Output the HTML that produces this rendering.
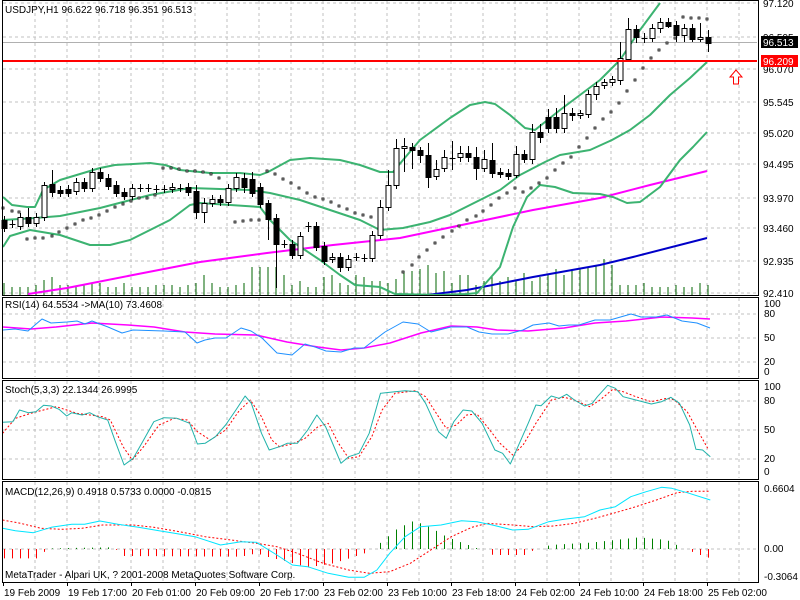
<!DOCTYPE html>
<html><head><meta charset="utf-8"><style>
html,body{margin:0;padding:0;background:#fff;}
svg{display:block;font-family:"Liberation Sans",sans-serif;}
</style></head><body>
<svg id="s" width="800" height="600" xmlns="http://www.w3.org/2000/svg">
<rect width="800" height="600" fill="#fff"/>
<g id="grid" stroke="#c0c0c0" stroke-dasharray="3,3" stroke-width="1"></g>
<g id="main"></g>
<g font-size="10" fill="#000">
<text x="5" y="13">USDJPY,H1  96.622 96.718 96.351 96.513</text>
<text x="5" y="308" font-size="10">RSI(14) 64.5534  -&gt;MA(10) 73.4608</text>
<text x="5" y="393" font-size="10">Stoch(5,3,3) 22.1344 26.9995</text>
<text x="5" y="495" font-size="10">MACD(12,26,9) 0.4918 0.5733 0.0000 -0.0815</text>
<text x="5" y="578" font-size="10">MetaTrader - Alpari UK, ? 2001-2008 MetaQuotes Software Corp.</text>
</g>
<g id="axis" font-size="10" fill="#000"></g>
</svg>
<script>
var S=document.getElementById('s'),NS='http://www.w3.org/2000/svg';
function el(t,a,p){var e=document.createElementNS(NS,t);for(var k in a)e.setAttribute(k,a[k]);(p||S).appendChild(e);return e;}
var G=document.getElementById('grid'),M=document.getElementById('main'),A=document.getElementById('axis');
var panels=[[0,295],[297,378],[380,479],[481,582]];
// vertical grid
panels.forEach(function(p){for(var x=35;x<758;x+=32)el('line',{x1:x,y1:p[0]+1,x2:x,y2:p[1]-1},G);});
[3,37,69,102,133,164,198,228,261,293].forEach(function(y){el('line',{x1:3,y1:y,x2:757,y2:y},G);});
[314,338,362].forEach(function(y){el('line',{x1:3,y1:y,x2:757,y2:y},G);});
[401,430,459].forEach(function(y){el('line',{x1:3,y1:y,x2:757,y2:y},G);});
[549].forEach(function(y){el('line',{x1:3,y1:y,x2:757,y2:y},G);});
// ask line
el('line',{x1:3,y1:42.5,x2:757,y2:42.5,stroke:'#b0b0b0'},M);
// volumes
var vol=[12,8,8,8,10,15,18,10,10,8,10,12,12,8,8,12,8,8,8,10,10,10,8,10,12,20,12,8,8,10,12,28,28,28,28,20,10,14,8,8,18,20,12,10,20,18,14,14,12,16,24,24,26,30,22,24,12,20,20,10,14,18,14,18,14,22,14,18,20,26,20,24,26,28,30,36,30,10,10,10,12,8,8,8,10,8,8,12,10];
vol.forEach(function(h,i){var x=4+8*i;el('line',{x1:x,y1:295,x2:x,y2:295-h,stroke:'#006400'},M);});
function poly(pts,c,w,d,par){el('polyline',{points:pts.map(function(p){return p.join(',')}).join(' '),fill:'none',stroke:c,'stroke-width':w,'stroke-dasharray':d||'none','stroke-linejoin':'round'},par||M);}
// MAs
poly([[28,294],[67,288],[133,275],[200,262],[267,253],[333,245],[400,238],[533,210],[600,198],[650,185],[707,171]],'#ff00ff',2);
poly([[427,295],[467,290],[533,277],[600,265],[633,257],[707,238]],'#0000c8',2);
var bb='#3cb371';
poly([[3,197],[12,205],[27,207],[35,207],[43,190],[60,180],[100,168],[115,165],[150,163],[165,165],[180,170],[210,173],[240,173],[260,175],[268,172],[290,160],[310,158],[340,160],[360,165],[380,172],[393,172],[403,160],[420,140],[450,118],[470,105],[485,102],[495,104],[510,115],[525,128],[535,130],[560,110],[600,80],[620,60],[640,30],[660,3]],bb,2);
poly([[3,220],[35,218],[60,216],[100,208],[150,195],[190,188],[250,190],[270,193],[300,200],[330,210],[360,220],[380,230],[403,228],[430,222],[450,215],[470,205],[500,190],[520,175],[545,162],[560,155],[590,150],[612,140],[630,130],[650,115],[670,95],[690,78],[707,62]],bb,2);
poly([[3,247],[10,236],[30,230],[60,235],[75,240],[90,245],[110,245],[130,240],[150,230],[170,220],[190,205],[200,203],[260,207],[270,220],[290,240],[320,260],[340,275],[355,285],[380,287],[395,294],[440,295],[467,294],[477,293],[500,267],[513,227],[527,197],[540,185],[555,187],[573,193],[600,194],[613,197],[627,203],[640,202],[660,187],[680,160],[693,147],[707,132]],bb,2);
// SAR
var sar=[[3,208],[12,211],[19,212],[27,239],[35,238],[43,238],[52,236],[59,232],[67,228],[75,224],[83,220],[91,218],[99,215],[107,211],[115,207],[123,204],[131,201],[139,198],[147,198],[155,195],[163,168],[171,168],[179,169],[187,171],[195,171],[203,172],[211,174],[219,178],[235,222],[243,221],[251,220],[259,220],[267,171],[275,174],[283,179],[291,183],[299,188],[307,193],[315,197],[323,199],[331,202],[339,206],[347,209],[355,213],[363,215],[371,217],[403,272],[412,265],[419,257],[427,250],[435,243],[443,237],[452,231],[459,226],[467,220],[476,216],[483,211],[491,205],[499,198],[507,193],[515,188],[523,192],[531,188],[539,183],[547,178],[555,170],[563,163],[571,157],[579,147],[587,138],[595,128],[603,119],[611,112],[619,103],[627,91],[635,80],[643,68],[651,58],[659,50],[667,43],[675,38],[683,17],[691,18],[699,18],[707,19]];
sar.forEach(function(p){el('rect',{x:p[0]-1,y:p[1]-1,width:2,height:2,fill:'#fff',stroke:'#000','stroke-width':0.8},M);});
// candles [top,bottom,type,wt,wb]
var C=[[220,228,'b'],[224,224,'c'],[217,226,'w',213],[217,223,'b',208],[217,223,'w'],[185,217,'w',182],[184,192,'b',170,197],[190,193,'b'],[189,193,'b'],[182,191,'w'],[182,188,'b'],[172,188,'w',168],[172,178,'b'],[178,186,'b'],[185,193,'b'],[192,196,'b'],[188,196,'w'],[188,188,'c'],[188,188,'c'],[189,189,'c'],[189,189,'c'],[187,189,'w'],[188,188,'c'],[187,192,'b'],[191,212,'b',185,219],[203,212,'w',198,223],[199,203,'w'],[199,202,'b'],[188,202,'w'],[177,188,'w',173],[178,187,'b',173,193],[179,193,'b',172],[187,204,'b'],[203,219,'b',200,240],[218,244,'b',214,288],[244,244,'c'],[244,255,'b'],[236,255,'w'],[226,226,'c',222,232],[226,247,'b'],[246,261,'b'],[257,259,'w'],[257,267,'b',253,272],[259,267,'w'],[257,257,'c'],[258,258,'c'],[235,258,'w'],[207,235,'w',200],[185,207,'w',170],[148,185,'w',139],
[146,148,'w',138,172],[147,150,'b',143,169],[150,155,'b',147,163],[155,177,'b',143,188],[169,176,'w',160,180],[157,168,'w',150],[158,158,'c',141,170],[153,157,'w',146,162],[153,157,'b',146,162],[157,168,'b',147,180],[159,168,'w',150,172],[160,173,'b',143,178],[172,174,'b'],[173,176,'b'],[154,175,'w',146,178],[154,159,'b',150,163],[132,159,'w',124,164],[132,137,'b',124,143],[117,128,'b',109,133],[117,128,'b',108,133],[113,128,'w',95,133],[113,115,'b',108,121],[113,115,'w',110,119],[94,114,'w',90,118],[86,94,'w',82,100],[82,85,'w',79,89],[79,82,'w',76,86],[58,80,'w',42,85],[29,59,'w',18,62],[29,37,'b',25,43],[38,38,'c',33,43],[28,38,'w',24,42],[22,28,'w',18,33],[22,26,'b',18,28],[25,35,'b',21,42],[28,35,'w',24,42],[28,39,'b',24,42],[37,39,'w',23,42],[37,43,'b',30,52]];
C.forEach(function(c,i){var x=4+8*i+0.5;var wt=c[3]||c[0]-4,wb=c[4]||c[1]+4;
 el('line',{x1:x,y1:wt,x2:x,y2:wb,stroke:'#000'},M);
 if(c[2]=='c'){el('line',{x1:x-3,y1:c[0]+0.5,x2:x+3,y2:c[0]+0.5,stroke:'#000'},M);}
 else el('rect',{x:x-2.5,y:c[0]+0.5,width:5,height:Math.max(1,c[1]-c[0]),fill:c[2]=='w'?'#fff':'#000',stroke:'#000'},M);});
// red line
el('line',{x1:3,y1:61,x2:757,y2:61,stroke:'#ff0000','stroke-width':2},M);
// arrow
el('path',{d:'M736 70 L730 77 L733.5 77 L733.5 84 L738.5 84 L738.5 77 L742 77 Z',fill:'#fff',stroke:'#ff0000'},M);
// lower panels: convert zoom coords
function cv(a){return a.map(function(p){return [+(p[0]/1.95).toFixed(1),+(290+p[1]/3).toFixed(1)];});}
poly([[3,327],[31,329],[56,327],[92,323],[128,325],[154,327],[185,332],[215,334],[256,335],[287,342],[318,347],[341,350],[364,348],[390,343],[421,333],[451,326],[477,327],[497,330],[528,331],[564,328],[595,323],[626,321],[662,317],[692,318],[710,319]],'#ff00ff',1.5);
poly([[3,330],[15,329],[28,331],[42,319],[51,323],[67,322],[77,321],[85,324],[92,321],[108,327],[122,333],[133,330],[164,331],[185,332],[197,343],[205,340],[215,338],[226,338],[241,328],[251,331],[262,338],[277,353],[292,355],[305,344],[315,347],[326,351],[341,352],[354,348],[364,348],[385,332],[403,322],[418,324],[431,332],[451,327],[467,327],[479,332],[492,334],[508,334],[523,330],[533,325],[549,323],[559,326],[569,325],[579,325],[595,320],[610,320],[631,314],[641,317],[656,317],[667,315],[682,321],[697,323],[710,328]],'#1e90ff',1);
poly(cv([[5,430],[30,385],[60,370],[110,350],[150,370],[200,380],[215,390],[240,470],[258,510],[280,470],[310,405],[340,385],[365,390],[385,425],[410,450],[440,420],[465,365],[488,330],[510,380],[530,450],[545,470],[570,462],[595,445],[620,410],[640,400],[660,460],[680,505],[700,500],[725,440],[745,360],[770,310],[810,302],[830,320],[855,380],[870,415],[890,405],[910,375],[930,372],[950,410],[975,460],[1000,495],[1020,465],[1045,400],[1075,330],[1100,322],[1120,330],[1150,350],[1170,330],[1195,298],[1215,305],[1240,320],[1270,335],[1300,325],[1315,330],[1340,365],[1360,420],[1380,475]]),'#ff0000',1,'2,2');
poly(cv([[5,397],[25,395],[38,360],[55,368],[70,365],[85,346],[100,348],[115,358],[130,378],[140,368],[160,375],[175,368],[190,380],[210,390],[225,455],[242,525],[260,505],[280,450],[300,395],[320,383],[345,385],[370,400],[385,462],[400,460],[420,440],[440,405],[460,360],[478,318],[490,340],[510,430],[525,480],[545,470],[560,460],[580,460],[600,420],[618,375],[635,410],[650,465],[665,520],[680,500],[700,490],[720,430],[742,310],[770,305],[790,302],[815,305],[830,340],[855,425],[870,445],[885,395],[903,360],[920,363],[940,400],[965,480],[980,490],[995,522],[1010,470],[1030,400],[1045,345],[1055,347],[1075,318],[1090,325],[1105,313],[1120,330],[1140,348],[1155,340],[1165,320],[1185,286],[1200,295],[1215,320],[1240,330],[1270,342],[1290,335],[1308,322],[1325,340],[1345,405],[1357,478],[1370,480],[1385,500]]),'#20b2aa',1);
// MACD histogram
var H=[[0,805],[75,805],[90,778],[100,775],[220,772],[235,790],[240,798],[470,800],[500,790],[520,800],[560,815],[600,832],[650,820],[710,790],[725,778],[740,760],[775,715],[807,692],[838,712],[870,740],[900,758],[930,775],[945,778],[960,795],[1025,795],[1040,780],[1060,778],[1070,765],[1150,758],[1245,742],[1300,750],[1325,770],[1345,782],[1355,790],[1385,805]];
function hi(zx){for(var k=0;k<H.length-1;k++){if(zx>=H[k][0]&&zx<=H[k+1][0]){var t=(zx-H[k][0])/(H[k+1][0]-H[k][0]);return H[k][1]+t*(H[k+1][1]-H[k][1]);}}return 805;}
for(var i=0;i<89;i++){var x=4+8*i,zy=hi(x*1.95),y=290+zy/3;if(Math.abs(y-549)<0.6)continue;
 el('line',{x1:x+0.5,y1:549,x2:x+0.5,y2:y,stroke:y<549?'#008000':'#ff0000'},M);}
poly(cv([[5,690],[40,700],[80,715],[120,718],[160,715],[200,705],[260,705],[300,712],[350,725],[400,740],[450,750],[500,760],[540,770],[580,790],[630,820],[680,840],[720,850],[760,845],[800,820],[840,780],[880,740],[920,712],[950,700],[1000,705],[1040,710],[1080,708],[1120,700],[1160,685],[1200,668],[1240,650],[1280,630],[1320,608],[1350,604],[1385,604]]),'#ff0000',1,'2,2');
poly(cv([[5,715],[30,722],[65,728],[100,712],[140,703],[165,703],[195,693],[230,703],[270,712],[310,722],[340,730],[380,740],[430,765],[470,755],[500,757],[540,795],[570,825],[600,830],[640,850],[680,862],[710,862],[735,840],[760,790],[790,740],[820,710],[860,705],[900,692],[930,695],[960,705],[1000,720],[1030,718],[1070,695],[1100,688],[1140,680],[1170,660],[1200,650],[1230,620],[1260,605],[1290,592],[1310,595],[1340,608],[1385,630]]),'#00e5ff',1);
// frames
panels.forEach(function(p){el('rect',{x:2.5,y:p[0]+0.5,width:756,height:p[1]-p[0],fill:'none',stroke:'#000'},M);});
// axis labels
[['97.120',3],['96.595',37],['96.070',69],['95.545',102],['95.020',133],['94.495',164],['93.970',198],['93.460',228],['92.935',261],['92.410',293]].forEach(function(l){el('text',{x:763,y:l[1]+4},A).textContent=l[0];});
el('rect',{x:761,y:36,width:37,height:12,fill:'#000'},A);
el('text',{x:763,y:46,fill:'#fff'},A).textContent='96.513';
el('rect',{x:761,y:55,width:37,height:12,fill:'#ff0000'},A);
el('text',{x:763,y:65,fill:'#fff'},A).textContent='96.209';
[['100',307],['80',317],['50',341],['20',365],['0',375]].forEach(function(l){el('text',{x:764,y:l[1]},A).textContent=l[0];});
[['100',390],['80',404],['50',433],['20',462],['0',475]].forEach(function(l){el('text',{x:764,y:l[1]},A).textContent=l[0];});
[['0.6604',492],['0.00',552],['-0.3064',580]].forEach(function(l){el('text',{x:764,y:l[1]},A).textContent=l[0];});
['19 Feb 2009','19 Feb 17:00','20 Feb 01:00','20 Feb 09:00','20 Feb 17:00','23 Feb 02:00','23 Feb 10:00','23 Feb 18:00','24 Feb 02:00','24 Feb 10:00','24 Feb 18:00','25 Feb 02:00'].forEach(function(t,i){var x=3+64*i;el('line',{x1:x+0.5,y1:582,x2:x+0.5,y2:586,stroke:'#000'},A);el('text',{x:x+1,y:596},A).textContent=t;});
</script>
</body></html>
